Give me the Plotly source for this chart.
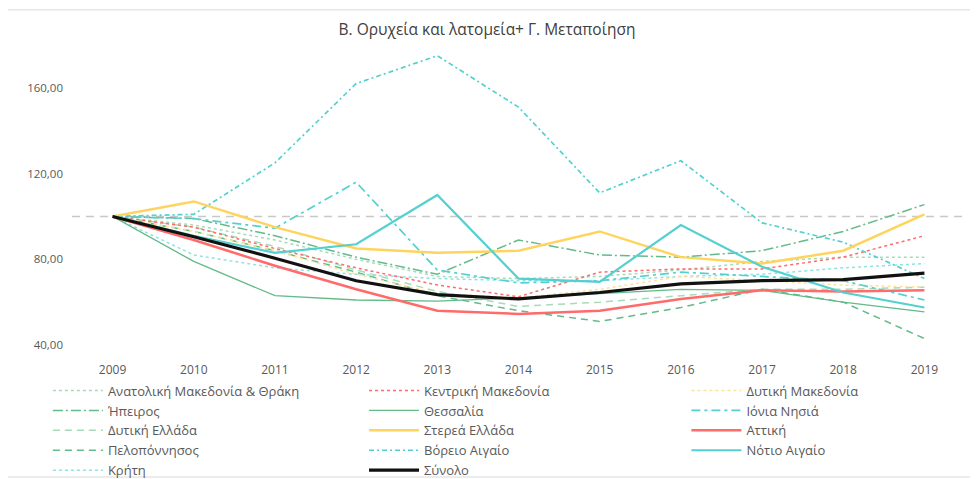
import plotly.graph_objects as go

years = [2009, 2010, 2011, 2012, 2013, 2014, 2015, 2016, 2017, 2018, 2019]

anat_makedonia = [100, 96, 89, 80, 72, 71, 72, 75, 79, 81, 81]
kentr_makedonia = [100, 95, 85, 76, 68, 62.5, 74, 75.5, 75.5, 81, 91]
dyt_makedonia = [100, 93, 84, 73, 64, 62, 66, 72, 70, 68, 67]
ipeiros = [100, 99, 91, 81, 73, 89, 82, 81, 84, 93, 105.5]
thessalia = [100, 79, 63, 61, 60.5, 62, 64, 66, 65.5, 60, 55.5]
ionia = [100, 99, 94.5, 116, 75, 69, 70, 74, 72, 70, 61]
dyt_ellada = [100, 95, 86, 75, 65, 58, 60, 63, 66, 66, 67]
sterea = [100, 107, 95, 85, 83, 84, 93, 81, 78, 84, 101]
attiki = [100, 89, 77, 66, 56, 54.5, 56, 61.5, 65.5, 65, 65.5]
peloponnisos = [100, 93, 84, 74, 63, 56, 51, 57.5, 66, 60, 43]
vorio_aigaio = [100, 101, 125, 162, 175, 151, 111, 126, 97, 88, 71]
notio_aigaio = [100, 91, 83, 87, 110, 71, 69.5, 96, 76.5, 64.5, 57.5]
kriti = [100, 82, 76, 73, 71, 70, 70, 72, 73, 76, 78]
synolo = [100, 90.5, 80.5, 70, 63.5, 61.5, 64.5, 68.5, 70, 70.5, 73.5]

y_ticks = [40, 80, 120, 160]
y_ticktext = ["40,00", "80,00", "120,00", "160,00"]
title_text = "Β. Ορυχεία και λατομεία+ Γ. Μεταποίηση"

CYAN = "#55d0d0"
GREEN = "#62bb88"
LGREEN = "#a6dbb8"
RED = "#ff6b6b"
YEL = "#ffd45e"
LYEL = "#ffe29a"

series = [
    ("Ανατολική Μακεδονία & Θράκη", anat_makedonia, LGREEN, "dot", 1.5, "legend"),
    ("Ήπειρος", ipeiros, GREEN, "10px,3px,2px,3px", 1.5, "legend"),
    ("Δυτική Ελλάδα", dyt_ellada, LGREEN, "7px,5px", 1.5, "legend"),
    ("Πελοπόννησος", peloponnisos, GREEN, "7px,5px", 1.5, "legend"),
    ("Κρήτη", kriti, "#8fe2e2", "dot", 1.5, "legend"),
    ("Κεντρική Μακεδονία", kentr_makedonia, RED, "3px,3px", 1.5, "legend2"),
    ("Θεσσαλία", thessalia, GREEN, "solid", 1.3, "legend2"),
    ("Στερεά Ελλάδα", sterea, YEL, "solid", 2.5, "legend2"),
    ("Βόρειο Αιγαίο", vorio_aigaio, CYAN, "5px,3px,2px,3px", 1.7, "legend2"),
    ("Σύνολο", synolo, "#111111", "solid", 3.2, "legend2"),
    ("Δυτική Μακεδονία", dyt_makedonia, LYEL, "dot", 1.5, "legend3"),
    ("Ιόνια Νησιά", ionia, CYAN, "9px,4px,3px,4px", 1.7, "legend3"),
    ("Αττική", attiki, RED, "solid", 2.5, "legend3"),
    ("Νότιο Αιγαίο", notio_aigaio, CYAN, "solid", 2.2, "legend3"),
]

# draw order: thin lines first, thick ones on top
draw_order = [0, 1, 2, 3, 4, 5, 10, 6, 11, 8, 7, 12, 13, 9]

fig = go.Figure()
for i in draw_order:
    name, vals, color, dash, width, leg = series[i]
    fig.add_trace(go.Scatter(
        x=years, y=vals, mode="lines", name=name,
        line=dict(color=color, dash=dash, width=width),
        legend=leg, legendrank=i + 1,
    ))

legend_common = dict(
    orientation="v", yanchor="top", xanchor="left", y=-0.102,
    font=dict(family="Open Sans", size=13, color="#595959"),
    bgcolor="rgba(0,0,0,0)", tracegroupgap=0, itemwidth=50,
    traceorder="normal",
)

# page body adds an 8px margin, so the figure is 970x471 placed at (8, 8)
fig.update_layout(
    width=970, height=471,
    margin=dict(l=64, r=13, t=37, b=134, autoexpand=False),
    paper_bgcolor="white", plot_bgcolor="white",
    title=dict(text=title_text, x=479 / 970, xref="container", xanchor="center",
               y=1 - 22 / 471, yanchor="middle",
               font=dict(family="Open Sans", size=15.5, color="#404040")),
    xaxis=dict(range=[2008.5, 2019.5], tickvals=years, ticktext=[str(y) for y in years],
               showgrid=False, zeroline=False, showline=False, ticks="",
               tickfont=dict(family="Open Sans", size=12, color="#595959"),
               ticklabelstandoff=16),
    yaxis=dict(range=[40, 180], tickvals=y_ticks, ticktext=y_ticktext,
               showgrid=False, zeroline=False, showline=False, ticks="",
               tickfont=dict(family="Open Sans", size=11.5, color="#595959"),
               ticklabelstandoff=8),
    legend=dict(x=-0.027, **legend_common),
    legend2=dict(x=0.327, **legend_common),
    legend3=dict(x=0.688, **legend_common),
    showlegend=True,
    shapes=[
        dict(type="line", xref="paper", yref="y", x0=0, x1=1, y0=100, y1=100,
             line=dict(color="#c8c8c8", width=1.5, dash="8px,6px"), layer="below"),
        dict(type="rect", xref="paper", yref="paper", x0=-0.075, x1=1.009, y0=-0.44, y1=1.117,
             line=dict(color="#d9d9d9", width=1), layer="below"),
    ],
)

fig.write_html("out.html")
